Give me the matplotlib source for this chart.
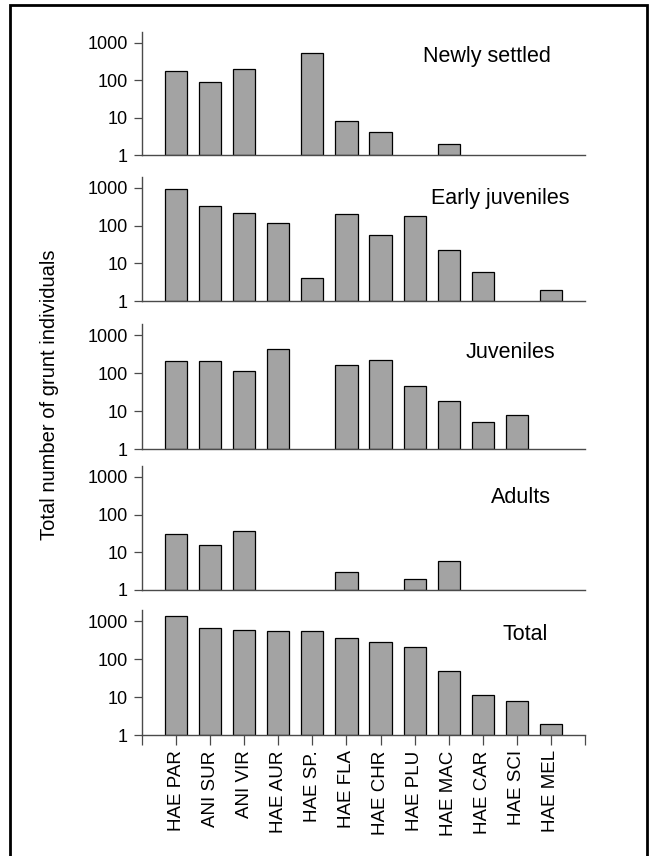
import matplotlib
matplotlib.use("Agg")
import matplotlib.pyplot as plt
import numpy as np
from matplotlib.patches import Rectangle
from matplotlib.ticker import FixedLocator, NullLocator, FixedFormatter

plt.rcParams['font.family'] = ['Liberation Sans', 'DejaVu Sans']

species = ["HAE PAR", "ANI SUR", "ANI VIR", "HAE AUR", "HAE SP.", "HAE FLA",
           "HAE CHR", "HAE PLU", "HAE MAC", "HAE CAR", "HAE SCI", "HAE MEL"]

newly_settled = [175, 87, 205, 0, 550, 8, 4, 0, 2, 0, 0, 0]
early_juveniles = [920, 340, 215, 118, 4, 200, 58, 175, 23, 6, 0, 2]
juveniles = [205, 205, 112, 430, 0, 160, 220, 45, 18, 5, 8, 0]
adults = [31, 16, 37, 0, 0, 3, 0, 2, 6, 0, 0, 0]
total = [1330, 640, 565, 540, 530, 362, 283, 212, 49, 11, 8, 2]

panel_titles = ["Newly settled", "Early juveniles", "Juveniles", "Adults", "Total"]
panel_data = [newly_settled, early_juveniles, juveniles, adults, total]
title_pos = [(0.779, 0.80), (0.808, 0.83), (0.831, 0.776), (0.855, 0.75), (0.865, 0.80)]

y_ticks = [1, 10, 100, 1000]
y_ticklabels = ["1", "10", "100", "1000"]

W, H = 651, 856
fig = plt.figure(figsize=(W / 100, H / 100), dpi=100)

# pixel extents (top of spine, baseline) for each panel
panel_px = [(32, 155), (177, 301), (324, 449), (466, 590), (610, 735)]
left_px, right_px = 142, 585

spine_col = '#4a4a4a'
bar_col = '#a3a3a3'

x = np.arange(len(species))
for i, (vals, title, (t, b)) in enumerate(zip(panel_data, panel_titles, panel_px)):
    ax = fig.add_axes([left_px / W, 1 - b / H, (right_px - left_px) / W, (b - t) / H])
    v = np.array(vals, dtype=float)
    m = v > 0
    ax.bar(x[m], v[m] - 1, bottom=1, width=0.65, color=bar_col,
           edgecolor='black', linewidth=0.9, zorder=2)
    ax.set_yscale('log')
    ax.set_ylim(1, 10 ** 3.29)
    ax.set_xlim(-1, 12)
    ax.yaxis.set_major_locator(FixedLocator(y_ticks))
    ax.yaxis.set_major_formatter(FixedFormatter(y_ticklabels))
    ax.yaxis.set_minor_locator(NullLocator())
    ax.tick_params(axis='y', direction='out', length=6, width=0.9, color=spine_col,
                   labelsize=13, pad=4)
    for s in ['top', 'right']:
        ax.spines[s].set_visible(False)
    for s in ['left', 'bottom']:
        ax.spines[s].set_color(spine_col)
        ax.spines[s].set_linewidth(1.0)
    ax.text(title_pos[i][0], title_pos[i][1], title, transform=ax.transAxes,
            ha='center', va='center', fontsize=15.5)
    if i < 4:
        ax.set_xticks([])
    else:
        ticks = np.arange(-1, 13)
        ax.set_xticks(ticks)
        ax.set_xticklabels([""] + species + [""], rotation=90, fontsize=13.5)
        ax.tick_params(axis='x', direction='out', length=7, width=0.9,
                       color=spine_col, pad=4)

fig.text(50 / W, 1 - 395 / H, "Total number of grunt individuals", rotation=90,
         ha='center', va='center', fontsize=14.5)

fig.patches.append(Rectangle((10 / W, -0.02), (647 - 10) / W, 1.02 - 5 / H + 0.0,
                             transform=fig.transFigure, fill=False,
                             edgecolor='black', linewidth=2))

fig.savefig("out.png", dpi=100)
